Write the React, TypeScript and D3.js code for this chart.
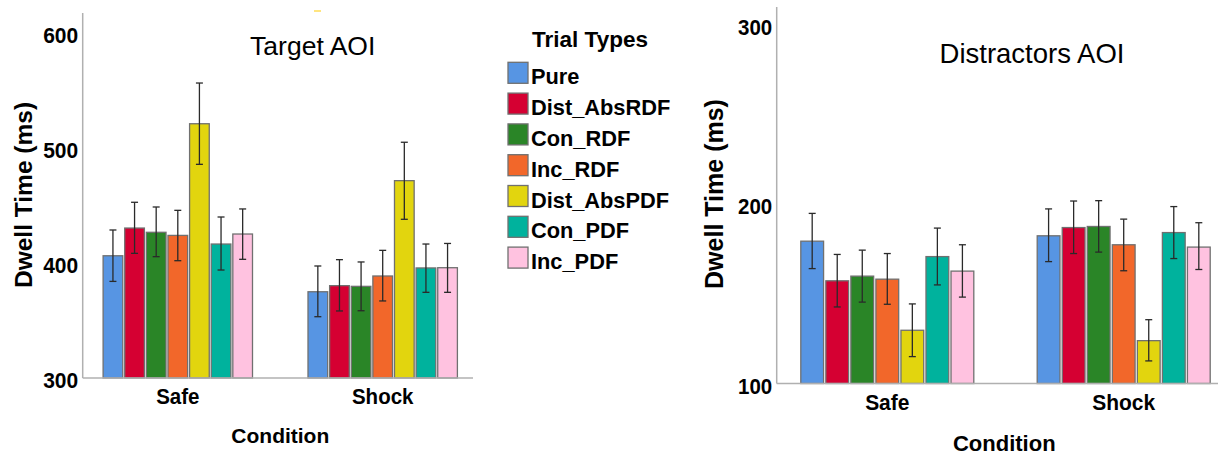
import React from "react";
import * as d3 from "d3";

const conditions = ["Safe", "Shock"];
const series = ["Pure", "Dist_AbsRDF", "Con_RDF", "Inc_RDF", "Dist_AbsPDF", "Con_PDF", "Inc_PDF"];
const colors = ["#5795E3", "#D50032", "#2A8527", "#F2672A", "#E2D50E", "#00B29D", "#FFC2E0"];

// Target AOI: means and 95% CI [low, high] per condition
const targetSafe = [406.3, 430.4, 426.7, 424.0, 521.1, 416.5, 425.2];
const targetSafeLow = [384.0, 408.4, 405.5, 402.0, 485.8, 393.9, 403.2];
const targetSafeHigh = [428.7, 452.8, 448.7, 445.8, 556.5, 440.0, 447.0];
const targetShock = [375.0, 380.3, 379.7, 388.7, 471.6, 395.7, 395.9];
const targetShockLow = [353.3, 358.3, 358.5, 367.0, 438.0, 374.5, 374.5];
const targetShockHigh = [397.4, 402.9, 400.9, 411.0, 505.0, 416.5, 417.0];

// Distractors AOI
const distSafe = [179.4, 157.3, 159.9, 158.2, 129.7, 170.8, 162.7];
const distSafeLow = [164.1, 142.7, 145.4, 144.2, 115.0, 155.0, 148.2];
const distSafeHigh = [194.9, 172.0, 174.4, 172.5, 144.4, 186.7, 177.4];
const distShock = [182.4, 187.0, 187.6, 177.4, 123.9, 184.2, 176.1];
const distShockLow = [168.0, 172.5, 173.3, 162.9, 112.6, 169.7, 163.6];
const distShockHigh = [197.4, 201.8, 202.0, 191.7, 135.6, 198.7, 189.7];

const targetTicks = [300, 400, 500, 600];
const distTicks = [100, 200, 300];

const FONT = "'Liberation Sans', Arial, Helvetica, sans-serif";

type PanelProps = {
  title: string;
  titleX: number;
  titleY: number;
  titleSize: number;
  yDomain: [number, number];
  yRange: [number, number];
  axisX: number;
  axisTop: number;
  axisRight: number;
  centers: [number, number];
  groupHalf: number;
  barPad: number;
  ticks: number[];
  tickSize: number;
  means: number[][];
  lows: number[][];
  highs: number[][];
  yTitleX: number;
  yTitleY: number;
  yTitleSize: number;
  catBaseline: number;
  catSize: number;
  xTitleX: number;
  xTitleY: number;
  xTitleSize: number;
};

function Panel(p: PanelProps) {
  const y = d3.scaleLinear().domain(p.yDomain).range(p.yRange);
  const x = d3.scalePoint<string>().domain(conditions).range(p.centers);
  const inner = d3
    .scaleBand<string>()
    .domain(series)
    .range([-p.groupHalf, p.groupHalf])
    .paddingInner(p.barPad);
  const base = y(p.yDomain[0]);
  const bw = inner.bandwidth();
  const cap = 3.5;
  return (
    <g>
      <line x1={p.axisX} x2={p.axisX} y1={p.axisTop} y2={base} stroke="#b0b0b0" strokeWidth={1.5} />
      {p.ticks.map((t) => (
        <text
          key={t}
          transform={`translate(${p.axisX - 4.5},${y(t) + 10}) scale(1,1.08)`}
          textAnchor="end"
          fontFamily={FONT}
          fontWeight="bold"
          fontSize={p.tickSize}
          fill="#000"
        >
          {t}
        </text>
      ))}
      {conditions.map((c, ci) =>
        series.map((s, si) => {
          const bx = (x(c) as number) + (inner(s) as number);
          const v = p.means[ci][si];
          const cx = bx + bw / 2;
          const lo = y(p.lows[ci][si]);
          const hi = y(p.highs[ci][si]);
          return (
            <g key={c + s}>
              <rect
                x={bx}
                y={y(v)}
                width={bw}
                height={base - y(v)}
                fill={colors[si]}
                stroke="#707070"
                strokeWidth={1.3}
              />
              <line x1={cx} x2={cx} y1={hi} y2={lo} stroke="#2a2a2a" strokeWidth={1.3} />
              <line x1={cx - cap} x2={cx + cap} y1={hi} y2={hi} stroke="#2a2a2a" strokeWidth={1.3} />
              <line x1={cx - cap} x2={cx + cap} y1={lo} y2={lo} stroke="#2a2a2a" strokeWidth={1.3} />
            </g>
          );
        })
      )}
      <line x1={p.axisX} x2={p.axisRight} y1={base} y2={base} stroke="#b0b0b0" strokeWidth={1.5} />
      {conditions.map((c) => (
        <text
          key={c}
          transform={`translate(${x(c) as number},${p.catBaseline}) scale(1,1.08)`}
          textAnchor="middle"
          fontFamily={FONT}
          fontWeight="bold"
          fontSize={p.catSize}
          fill="#000"
        >
          {c}
        </text>
      ))}
      <text
        x={p.titleX}
        y={p.titleY}
        textAnchor="middle"
        fontFamily={FONT}
        fontSize={p.titleSize}
        fill="#000"
      >
        {p.title}
      </text>
      <text
        transform={`translate(${p.yTitleX},${p.yTitleY}) rotate(-90)`}
        textAnchor="middle"
        dominantBaseline="central"
        fontFamily={FONT}
        fontWeight="bold"
        fontSize={p.yTitleSize}
        fill="#000"
      >
        Dwell Time (ms)
      </text>
      <text
        x={p.xTitleX}
        y={p.xTitleY}
        textAnchor="middle"
        fontFamily={FONT}
        fontWeight="bold"
        fontSize={p.xTitleSize}
        fill="#000"
      >
        Condition
      </text>
    </g>
  );
}

function Legend() {
  const ly = d3.scaleBand<string>().domain(series).range([62.3, 62.3 + 30.8 * 7]);
  return (
    <g>
      <text x={590} y={47} textAnchor="middle" fontFamily={FONT} fontWeight="bold" fontSize={22.5} fill="#000">
        Trial Types
      </text>
      {series.map((s, i) => (
        <g key={s}>
          <rect x={508} y={ly(s) as number} width={20} height={21} fill={colors[i]} stroke="#707070" strokeWidth={1.3} />
          <text
            x={531}
            y={(ly(s) as number) + 22}
            fontFamily={FONT}
            fontWeight="bold"
            fontSize={21.8}
            fill="#000"
          >
            {s}
          </text>
        </g>
      ))}
    </g>
  );
}

export default function App() {
  return (
    <svg
      width={1218}
      height={455}
      style={{ position: "absolute", left: 0, top: 0, background: "#fff" }}
    >
      <rect x={0} y={0} width={1218} height={455} fill="#fff" />
      <rect x={314} y={10} width={7} height={2} fill="#FFE580" />
      <Panel
        title="Target AOI"
        titleX={312.7}
        titleY={55}
        titleSize={26.5}
        yDomain={[300, 600]}
        yRange={[378, 33]}
        axisX={82.7}
        axisTop={13}
        axisRight={473}
        centers={[177.8, 382.7]}
        groupHalf={74.7}
        barPad={0.09}
        ticks={targetTicks}
        tickSize={21}
        means={[targetSafe, targetShock]}
        lows={[targetSafeLow, targetShockLow]}
        highs={[targetSafeHigh, targetShockHigh]}
        yTitleX={23}
        yTitleY={195}
        yTitleSize={24.5}
        catBaseline={404}
        catSize={20.5}
        xTitleX={280.3}
        xTitleY={442.7}
        xTitleSize={21}
      />
      <Legend />
      <Panel
        title="Distractors AOI"
        titleX={1032}
        titleY={63}
        titleSize={27.5}
        yDomain={[100, 300]}
        yRange={[383.5, 25]}
        axisX={776.7}
        axisTop={7}
        axisRight={1218}
        centers={[887.3, 1123.7]}
        groupHalf={86.5}
        barPad={0.09}
        ticks={distTicks}
        tickSize={20.5}
        means={[distSafe, distShock]}
        lows={[distSafeLow, distShockLow]}
        highs={[distSafeHigh, distShockHigh]}
        yTitleX={714}
        yTitleY={194}
        yTitleSize={25}
        catBaseline={410}
        catSize={21}
        xTitleX={1004.3}
        xTitleY={450.7}
        xTitleSize={22}
      />
    </svg>
  );
}
